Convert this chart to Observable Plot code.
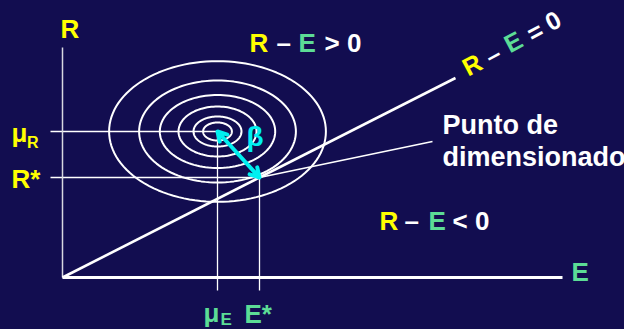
<!DOCTYPE html>
<html><head><meta charset="utf-8">
<script src="https://cdn.jsdelivr.net/npm/d3@7"></script>
<script src="https://cdn.jsdelivr.net/npm/@observablehq/plot@0.6"></script>
<style>
html,body{margin:0;padding:0;background:#120d50;overflow:hidden;}
</style></head><body><div id="chart"></div>
<script>
// ---- values (chart units) ----
const muE = 15.5, muR = 14.6;      // mean of E and R (centre of the ellipses)
const Estar = 19.7, Rstar = 10.0;  // design point (E*, R*)
const ellipseA = [10.84, 7.84, 5.77, 3.9, 2.4, 1.44];   // semi-axes along E
const ellipseB = [7.03, 5.1, 3.65, 2.5, 1.5, 0.9];      // semi-axes along R
const eMax = 50, rMax = 23;           // axis lengths
const limitEnd = [39.3, 19.95];       // end of the R - E = 0 line
const pointerEnd = [37.0, 13.6];      // end of the pointer to the label
const guideStart = -1.2;              // where guide lines start beyond the axes

// ---- text ----
const axisLabels = ["R", "E"];
const safeLabel = ["R", "–", "E", "> 0"];
const failLabel = ["R", "–", "E", "< 0"];
const limitLabel = ["R", "–", "E", "=", "0"];
const pointLabel = ["Punto de", "dimensionado"];
const tickR = ["μ", "R", "R*"];
const tickE = ["μ", "E", "E*"];
const betaLabel = "β";

const YEL = "#ffff00", GRN = "#5cdc96", WHT = "#ffffff", CYA = "#00f0f0";
const pieceColors = [YEL, WHT, GRN, WHT, WHT];

const ellipsePts = ellipseA.flatMap((a, i) =>
  d3.range(0, 360, 3).map(t => ({
    ring: i,
    x: muE + a * Math.cos(t * Math.PI / 180),
    y: muR + ellipseB[i] * Math.sin(t * Math.PI / 180)
  })));

const lab = (str, x, y, o = {}) => Plot.text([str], Object.assign({
  x, y, textAnchor: "start", lineAnchor: "bottom",
  fontSize: 26, fontWeight: "bold", fill: WHT
}, o));

const mid = {x: (muE + Estar) / 2, y: (muR + Rstar) / 2};

const safeX = [18.7, 21.4, 23.6, 26.2];
const failX = [31.7, 34.2, 36.6, 39.0];
const limitPos = [[41.0, 21.2], [43.1, 22.2], [45.1, 23.5], [47.3, 24.5], [49.1, 25.6]];

const chart = Plot.plot({
  width: 624, height: 329,
  marginTop: 47, marginRight: 62, marginBottom: 52, marginLeft: 62,
  x: {domain: [0, eMax], axis: null},
  y: {domain: [0, rMax], axis: null},
  style: {background: "#120d50", fontFamily: "'Liberation Sans', Arial, sans-serif", overflow: "visible"},
  marks: [
    // guide lines
    Plot.link([
      {x1: guideStart, y1: muR, x2: muE, y2: muR},
      {x1: guideStart, y1: Rstar, x2: Estar, y2: Rstar},
      {x1: muE, y1: muR, x2: muE, y2: guideStart - 0.1},
      {x1: Estar, y1: Rstar, x2: Estar, y2: guideStart - 0.1}
    ], {x1: "x1", y1: "y1", x2: "x2", y2: "y2", stroke: WHT, strokeWidth: 1.3}),
    // concentric ellipses
    Plot.line(ellipsePts, {x: "x", y: "y", z: "ring", curve: "linear-closed", stroke: WHT, strokeWidth: 2}),
    // axes
    Plot.link([{x1: 0, y1: 0, x2: 0, y2: rMax}], {x1: "x1", y1: "y1", x2: "x2", y2: "y2", stroke: "#d8d8e0", strokeWidth: 1.5}),
    Plot.link([{x1: 0, y1: 0, x2: eMax, y2: 0}], {x1: "x1", y1: "y1", x2: "x2", y2: "y2", stroke: WHT, strokeWidth: 3}),
    // limit state line and pointer
    Plot.link([{x1: 0, y1: 0, x2: limitEnd[0], y2: limitEnd[1]}], {x1: "x1", y1: "y1", x2: "x2", y2: "y2", stroke: WHT, strokeWidth: 2.6}),
    Plot.link([{x1: Estar, y1: Rstar, x2: pointerEnd[0], y2: pointerEnd[1]}], {x1: "x1", y1: "y1", x2: "x2", y2: "y2", stroke: WHT, strokeWidth: 1.6}),
    // beta double arrow
    Plot.arrow([
      {x1: mid.x, y1: mid.y, x2: muE, y2: muR},
      {x1: mid.x, y1: mid.y, x2: Estar, y2: Rstar}
    ], {x1: "x1", y1: "y1", x2: "x2", y2: "y2", stroke: CYA, strokeWidth: 4, headLength: 13}),
    lab(betaLabel, 18.4, 13.15, {fill: CYA, fontSize: 28}),
    // axis labels
    lab(axisLabels[0], -0.2, 24.0, {fill: YEL}),
    lab(axisLabels[1], 50.9, -0.3, {fill: GRN}),
    // region labels
    ...safeLabel.map((s, i) => lab(s, safeX[i], 22.6, {fill: pieceColors[i]})),
    ...failLabel.map((s, i) => lab(s, failX[i], 4.8, {fill: pieceColors[i]})),
    ...limitLabel.map((s, i) => lab(s, limitPos[i][0], limitPos[i][1], {fill: pieceColors[i], textAnchor: "middle", lineAnchor: "middle", rotate: -28, fontSize: 25})),
    // design point label
    lab(pointLabel[0], 38.0, 14.4, {fontSize: 27}),
    lab(pointLabel[1], 38.0, 11.2, {fontSize: 27}),
    // R ticks
    lab(tickR[0], -5.1, 13.55, {fill: YEL}),
    lab(tickR[1], -3.55, 13.0, {fill: YEL, fontSize: 16}),
    lab(tickR[2], -5.1, 9.0, {fill: YEL}),
    // E ticks
    lab(tickE[0], 14.1, -4.45, {fill: GRN}),
    lab(tickE[1], 15.8, -4.75, {fill: GRN, fontSize: 17}),
    lab(tickE[2], 18.2, -4.5, {fill: GRN})
  ]
});
document.getElementById("chart").appendChild(chart);
</script></body></html>
